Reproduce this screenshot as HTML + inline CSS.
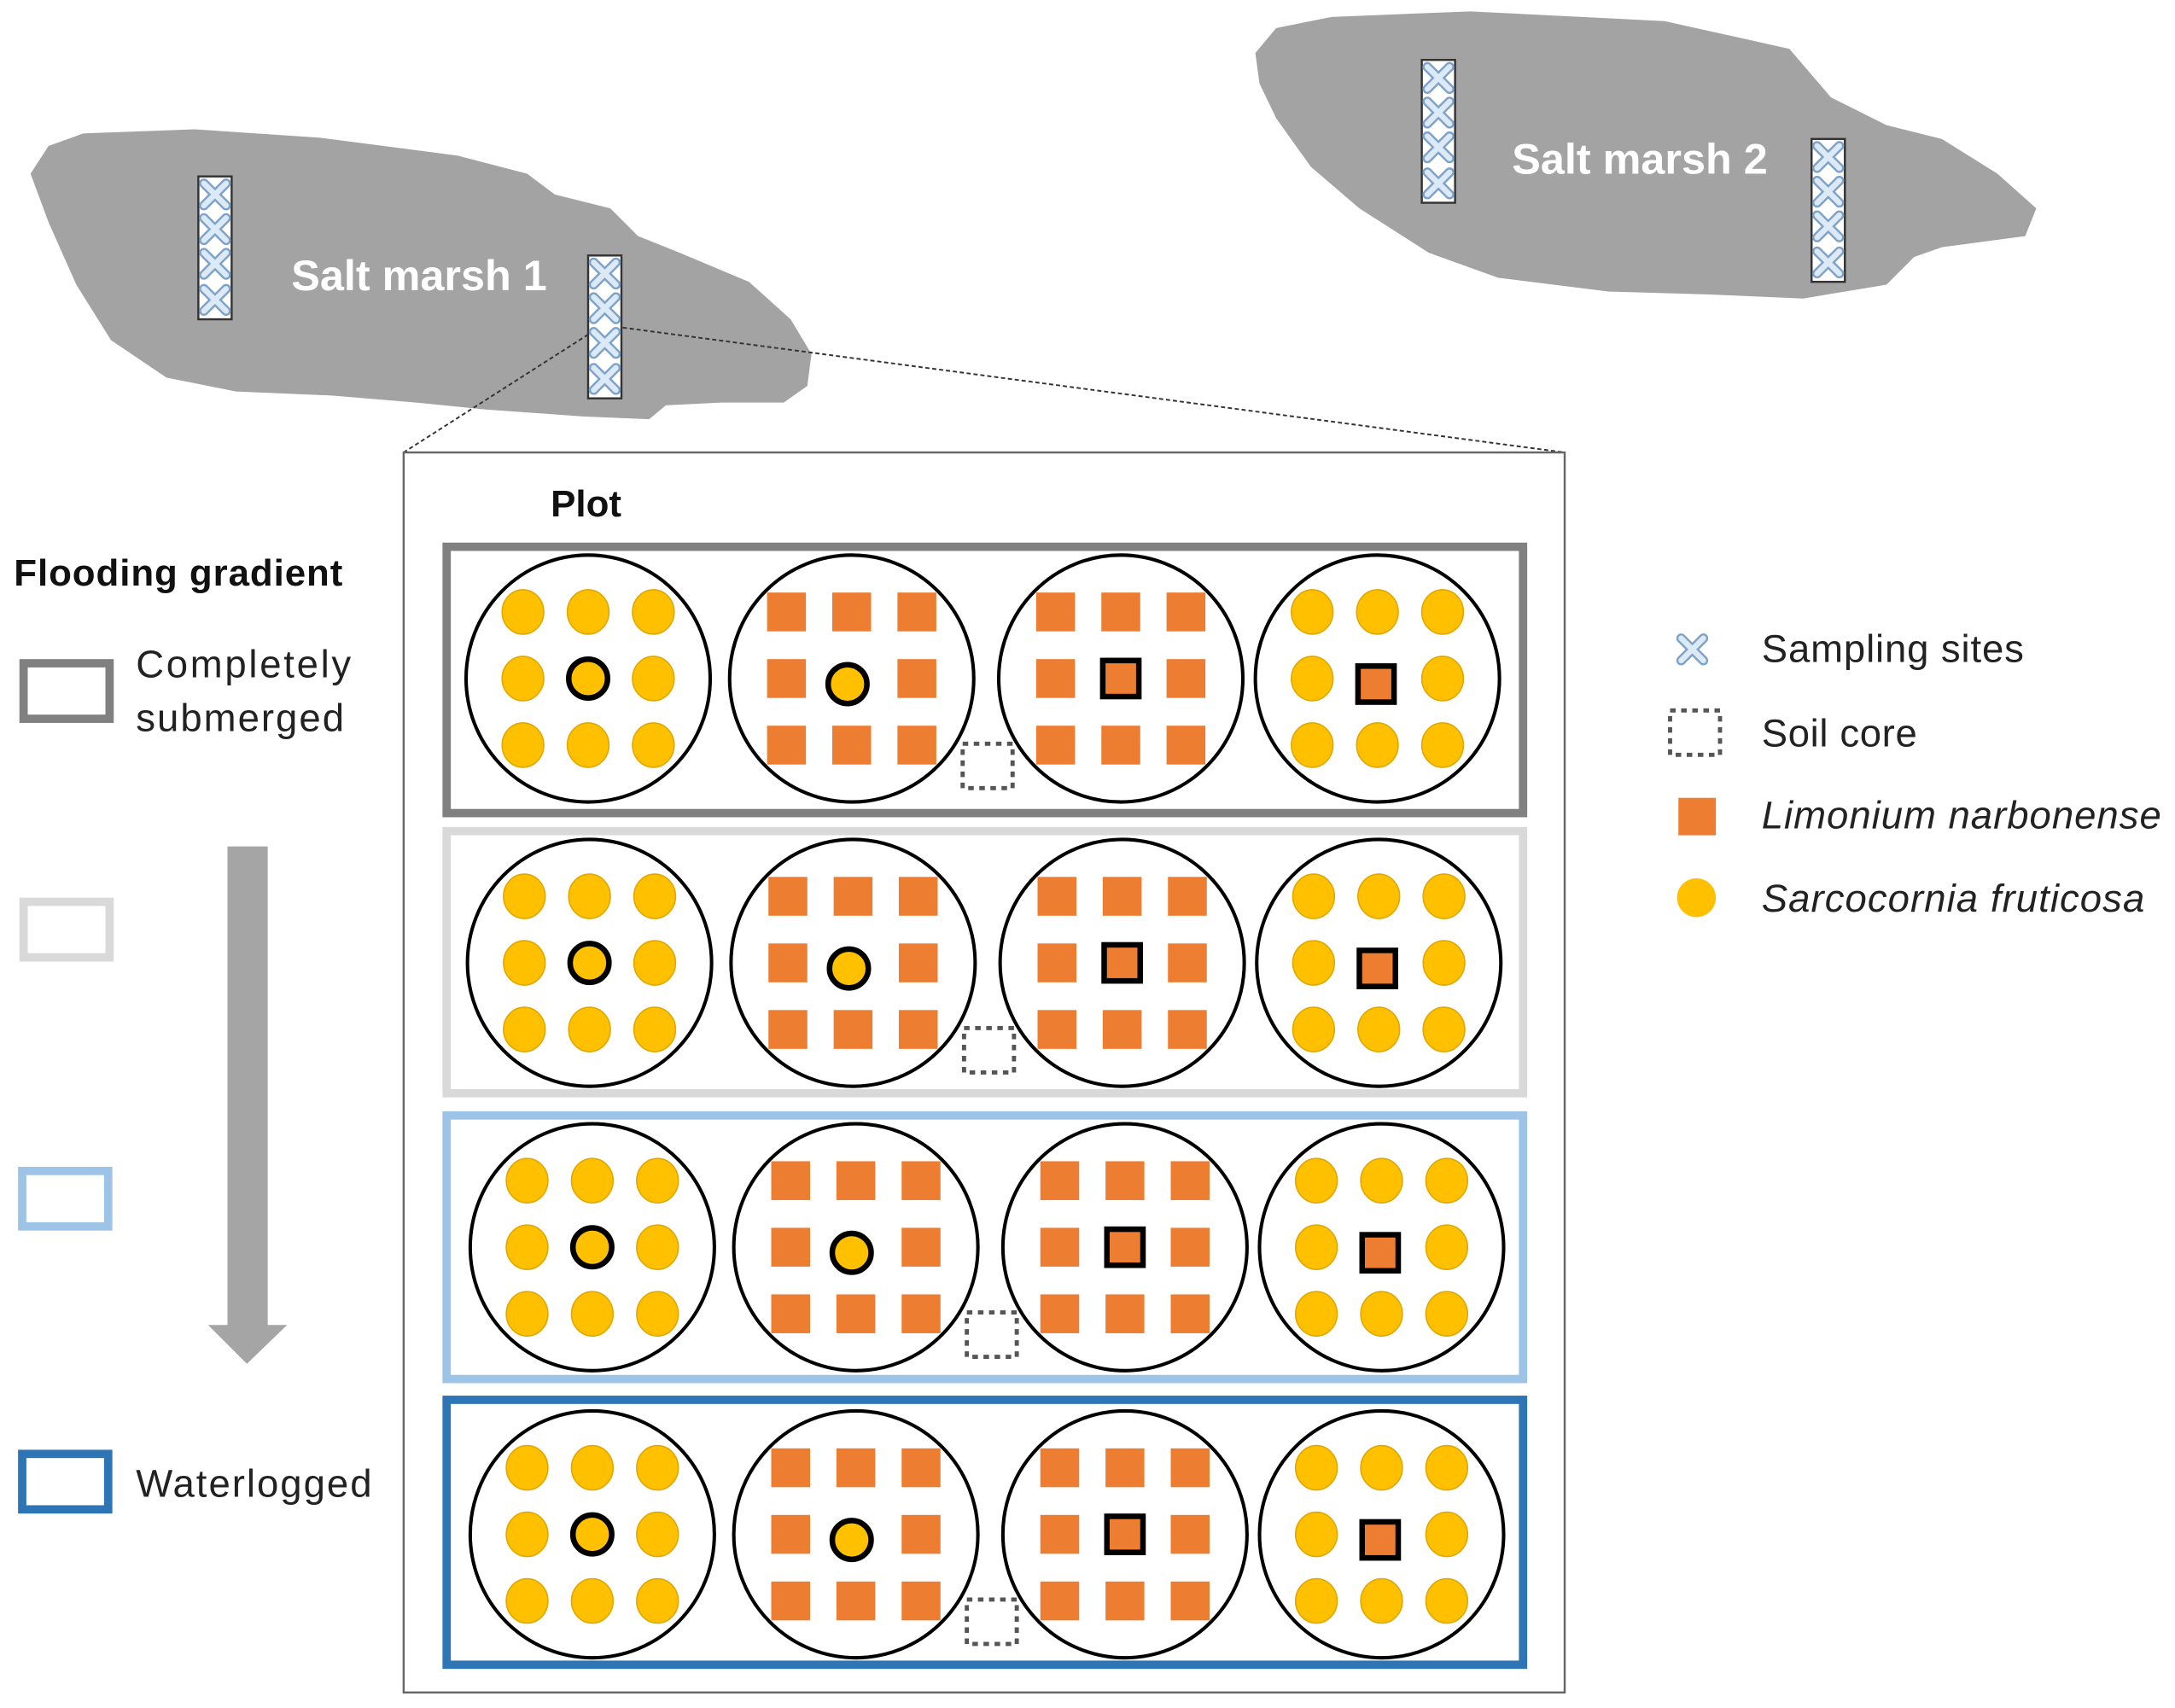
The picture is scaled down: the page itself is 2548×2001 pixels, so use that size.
<!DOCTYPE html>
<html><head><meta charset="utf-8"><style>html,body{margin:0;padding:0;background:#fff}svg{display:block}text{font-family:"Liberation Sans",sans-serif}</style></head>
<body>
<svg width="2548" height="2001" viewBox="0 0 1568 1231" xmlns="http://www.w3.org/2000/svg">
<defs>
<g id="x"><path d="M-8,-8 L8,8 M8,-8 L-8,8" stroke="#7fa3c8" stroke-width="7" stroke-linecap="round"/><path d="M-8,-8 L8,8 M8,-8 L-8,8" stroke="#dce9f7" stroke-width="4" stroke-linecap="round"/></g>
<g id="strip"><rect x="-12" y="0" width="24" height="103" fill="#fff" stroke="#333" stroke-width="1.5"/><use href="#x" x="0" y="13"/><use href="#x" x="0" y="38"/><use href="#x" x="0" y="63"/><use href="#x" x="0" y="89"/></g>
<g id="dot"><ellipse rx="15" ry="16" fill="#ffc000" stroke="#e0a800" stroke-width="1"/></g>
<g id="sq"><rect x="-14" y="-14" width="28" height="28" fill="#ed7d31"/></g>
<g id="cdot"><ellipse rx="88" ry="89" fill="#fff" stroke="#000" stroke-width="2.5"/>
<use href="#dot" x="-47" y="-48"/><use href="#dot" x="0" y="-48"/><use href="#dot" x="47" y="-48"/>
<use href="#dot" x="-47" y="0"/><use href="#dot" x="47" y="0"/>
<use href="#dot" x="-47" y="48"/><use href="#dot" x="0" y="48"/><use href="#dot" x="47" y="48"/></g>
<g id="csq"><ellipse rx="88" ry="89" fill="#fff" stroke="#000" stroke-width="2.5"/>
<use href="#sq" x="-47" y="-48"/><use href="#sq" x="0" y="-48"/><use href="#sq" x="47" y="-48"/>
<use href="#sq" x="-47" y="0"/><use href="#sq" x="47" y="0"/>
<use href="#sq" x="-47" y="48"/><use href="#sq" x="0" y="48"/><use href="#sq" x="47" y="48"/></g>
<g id="cdotC"><ellipse rx="14" ry="14" fill="#ffc000" stroke="#000" stroke-width="4"/></g>
<g id="csqC"><rect x="-13" y="-13" width="26" height="26" fill="#ed7d31" stroke="#000" stroke-width="4"/></g>
<g id="row">
<use href="#cdot" x="424" y="0"/><use href="#cdotC" x="424" y="0"/>
<use href="#csq" x="614" y="0"/><use href="#cdotC" x="611" y="4"/>
<use href="#csq" x="808" y="0"/><use href="#csqC" x="808" y="0"/>
<use href="#cdot" x="993" y="0"/><use href="#csqC" x="992" y="4"/>
<rect x="694" y="47" width="36" height="32" fill="none" stroke="#555" stroke-width="3" stroke-dasharray="4,4"/>
</g>
</defs>
<path d="M22,125 L35,105 L60,96 L140,93 L230,99 L330,112 L380,125 L400,140 L440,150 L460,170 L490,182 L540,203 L570,230 L585,255 L582,278 L565,290 L520,290 L480,292 L468,302 L420,300 L350,295 L300,290 L240,285 L170,282 L120,272 L80,245 L55,205 L35,160 Z" fill="#a3a3a3"/>
<path d="M905,38 L920,20 L960,12 L1060,8 L1200,15 L1290,35 L1320,70 L1360,90 L1400,100 L1440,125 L1468,150 L1460,170 L1400,178 L1380,185 L1360,205 L1300,215 L1230,212 L1160,210 L1080,200 L1030,182 L980,150 L945,120 L920,85 L908,60 Z" fill="#a3a3a3"/>
<use href="#strip" x="155" y="127"/>
<use href="#strip" x="436" y="184"/>
<use href="#strip" x="1037" y="43"/>
<use href="#strip" x="1318" y="100"/>
<text x="210" y="209" font-size="31" font-weight="bold" fill="#fff">Salt marsh 1</text>
<text x="1090" y="125" font-size="31" font-weight="bold" fill="#fff">Salt marsh 2</text>
<line x1="424" y1="241" x2="291" y2="326" stroke="#333" stroke-width="1.2" stroke-dasharray="3,2"/>
<line x1="449" y1="236" x2="1128" y2="326" stroke="#333" stroke-width="1.2" stroke-dasharray="3,2"/>
<rect x="291" y="326" width="837" height="894" fill="#fff" stroke="#666" stroke-width="1.5"/>
<text x="397" y="372" font-size="27" font-weight="bold" fill="#111">Plot</text>
<rect x="322" y="394" width="776" height="192" fill="none" stroke="#808080" stroke-width="6"/>
<rect x="322" y="599" width="776" height="189" fill="none" stroke="#d9d9d9" stroke-width="6"/>
<rect x="322" y="804" width="776" height="190" fill="none" stroke="#9dc3e6" stroke-width="6"/>
<rect x="322" y="1009" width="776" height="191" fill="none" stroke="#2e75b6" stroke-width="6"/>
<use href="#row" y="489"/>
<use href="#row" x="1" y="694"/>
<use href="#row" x="3" y="899"/>
<use href="#row" x="3" y="1106"/>
<text x="10" y="422" font-size="27" font-weight="bold" fill="#111" textLength="237">Flooding gradient</text>
<rect x="17" y="478" width="62" height="40" fill="none" stroke="#808080" stroke-width="6"/>
<rect x="17" y="650" width="62" height="40" fill="none" stroke="#d9d9d9" stroke-width="6"/>
<rect x="16" y="844" width="62" height="40" fill="none" stroke="#9dc3e6" stroke-width="6"/>
<rect x="16" y="1048" width="62" height="40" fill="none" stroke="#2e75b6" stroke-width="6"/>
<text x="98" y="488" font-size="28" fill="#222" textLength="155">Completely</text>
<text x="98" y="527" font-size="28" fill="#222" textLength="150">submerged</text>
<text x="98" y="1079" font-size="28" fill="#222" textLength="170">Waterlogged</text>
<path d="M164,610 L193,610 L193,955 L207,955 L178,983 L150,955 L164,955 Z" fill="#a5a5a5"/>
<use href="#x" x="1220" y="468"/>
<rect x="1204" y="512" width="36" height="32" fill="none" stroke="#555" stroke-width="3" stroke-dasharray="4,4"/>
<rect x="1210" y="575" width="27" height="27" fill="#ed7d31"/>
<ellipse cx="1223" cy="647" rx="14" ry="14" fill="#ffc000"/>
<text x="1270" y="477" font-size="28" fill="#222" textLength="189">Sampling sites</text>
<text x="1270" y="538" font-size="28" fill="#222" textLength="112">Soil core</text>
<text x="1270" y="597" font-size="28" font-style="italic" fill="#222" textLength="288">Limonium narbonense</text>
<text x="1270" y="657" font-size="28" font-style="italic" fill="#222" textLength="276">Sarcocornia fruticosa</text>
</svg>
</body></html>
